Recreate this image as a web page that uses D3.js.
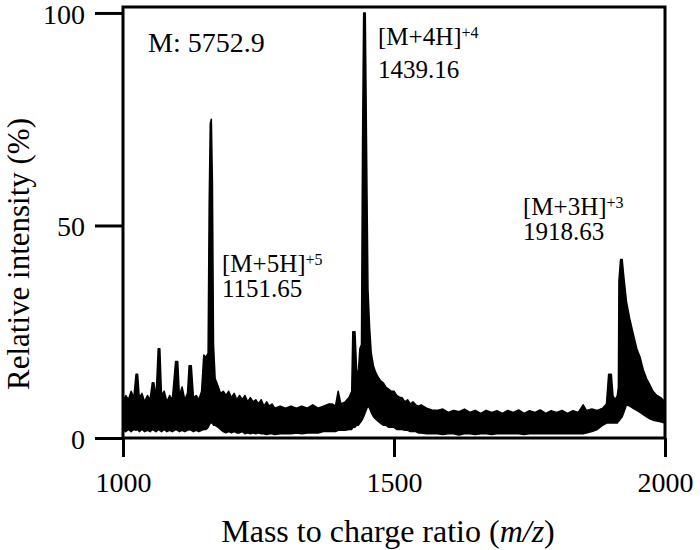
<!DOCTYPE html>
<html>
<head>
<meta charset="utf-8">
<script src="https://cdn.jsdelivr.net/npm/d3@7/dist/d3.min.js"></script>
<style>
    body { margin: 0; background: #fff; }
    text { font-family: "Liberation Serif", "Times New Roman", serif; fill: #000; }
</style>
</head>
<body>
<div id="chart"></div>
<script>
// spectrum envelope: m/z, top of noise band, bottom of noise band (%)
var mz = [1000,1005,1010,1015,1020,1024,1027,1030,1035,1040,1045,1050,1054,1057,1061,1065,1068,1071,1076,1081,
    1086,1091,1097,1101,1104,1109,1114,1119,1122,1126,1130,1135,1140,1145,1149,1153,1157,1159,1161,1163,
    1165,1167,1170,1176,1180,1185,1190,1195,1200,1205,1210,1215,1220,1225,1230,1235,1240,1245,1250,1255,
    1260,1265,1270,1275,1280,1290,1300,1310,1320,1330,1340,1350,1360,1370,1380,1386,1392,1397,1402,1410,
    1417,1422,1424,1428,1431,1434,1437,1440,1442,1444,1447,1450,1452,1455,1458,1462,1466,1470,1475,1480,
    1485,1490,1495,1500,1505,1510,1515,1520,1525,1530,1535,1540,1545,1550,1560,1570,1580,1590,1600,1610,
    1620,1630,1640,1650,1660,1670,1680,1690,1700,1710,1720,1730,1740,1750,1760,1770,1780,1790,1800,1810,
    1820,1830,1840,1849,1855,1865,1875,1885,1892,1896,1901,1904,1908,1912,1914,1915,1918,1921,1924,1929,
    1935,1941,1948,1954,1960,1966,1972,1978,1985,1992,2000];
var upper = [8.5,10,9,11,9.5,15,15,9.5,10.5,8.5,10,9,13,13,9.5,21,21,10,11,8.5,
    10,9,18,18,10,12,9,10.5,17,17,9.5,10,9,11,19.5,19,20,55,74,75,
    60,22,14,12,10.5,11,10,11,9.5,10.5,9,10,9,10,8.5,9.5,8.5,9,8,9,
    7.5,8.5,7.5,8,7,7.5,7,7.5,7,7.5,7,7.8,7,7.5,8,8,7.5,11,8,8.5,
    9.5,11,25,25,16,15,21,22,70,100,100,60,35,26,20,17,15.5,14.5,13.5,13,
    12,11.5,11,11,10,9.6,9.5,8.5,9,8,8.5,7.8,7.5,7.8,7,6.6,6.5,6.8,6,6.5,
    6.2,6.8,6,6.5,5.8,6.5,6,6.4,5.8,6.5,6,6.6,5.8,6.4,6,6.6,5.8,6.4,6,6.5,
    5.8,6.4,6,7.8,6.5,6.8,6.5,7,8,15,15,10,9,10,12,37,42,42,38,32,
    28,24.7,21,19,16,14,12.5,11,10,9.5,8.5];
var lower = [2,1.5,2,1.5,2,1.8,2,1.5,2,1.5,1.8,1.5,2,1.8,1.5,2,1.8,1.5,2,1.5,
    1.8,1.5,2,1.8,1.5,1.8,1.5,1.8,2,1.8,1.5,1.8,1.5,1.8,2,2,2.5,3,3.5,3.5,
    3.5,3,3,2.5,2,1.5,1.2,1.5,1.2,1.5,1.2,1.2,1.5,1,1.2,1,1.2,1,1.2,1,
    1,0.8,1,1,0.8,1,1,1,1.2,1,1.2,1.2,1.2,1.5,1.5,1.5,1.5,1.8,1.8,1.8,
    2,2,2.5,2.5,3,3,3.5,4,4.5,5,6,7,7.5,7,6,5,4.5,4,3.5,3,
    3,2.5,2.5,2.5,2,2,2,1.8,1.8,1.5,1.5,1.5,1.2,1.2,1,1,1,0.8,1,1,
    0.7,1,1,0.8,1,1,0.8,1,1,1,1,1,0.8,1,1,1,1,1,1,1,
    1,1,1,1,1.2,1.5,2,3,3.5,3.5,3.5,3.5,3.5,3.5,4,4,4.5,5,6,7.8,
    7.5,7,6.5,6,5.5,5,4.5,4.2,4,3.8,3.5];

var xTicks = [1000, 1500, 2000];
var yTicks = [0, 50, 100];

var peakLabels = ["[M+5H]", "[M+4H]", "[M+3H]"];
var peakCharges = ["+5", "+4", "+3"];
var peakMasses = ["1151.65", "1439.16", "1918.63"];
var massText = "M: 5752.9";

(function () {
    var width = 700,
        height = 550;

    var left = 123, right = 665, top = 7, bottom = 438;

    var svg = d3.select("#chart")
        .append("svg")
        .attr("width", width)
        .attr("height", height);

    var x = d3.scaleLinear().domain([1000, 2000]).range([left, right]);
    // frame top sits a little above the 100 tick
    var y = d3.scaleLinear().domain([0, 101.4]).range([bottom, top]);

    var data = mz.map(function (m, i) {
        return {mz: m, hi: upper[i], lo: lower[i]};
    });

    svg.append("defs").append("clipPath")
        .attr("id", "plotclip")
        .append("rect")
        .attr("x", left).attr("y", top)
        .attr("width", right - left).attr("height", bottom - top);

    var area = d3.area()
        .x(function (d) { return x(d.mz); })
        .y0(function (d) { return y(d.lo); })
        .y1(function (d) { return y(d.hi); });

    svg.append("path")
        .datum(data)
        .attr("clip-path", "url(#plotclip)")
        .attr("d", area)
        .attr("fill", "#000")
        .attr("stroke", "#000")
        .attr("stroke-width", 1.5)
        .attr("stroke-linejoin", "round");

    // frame
    svg.append("rect")
        .attr("x", left).attr("y", top)
        .attr("width", right - left).attr("height", bottom - top)
        .attr("fill", "none")
        .attr("stroke", "#000")
        .attr("stroke-width", 3);

    var xAxis = svg.append("g")
        .attr("transform", "translate(0," + bottom + ")")
        .call(d3.axisBottom(x).tickValues(xTicks).tickSize(19).tickPadding(15).tickFormat(d3.format("d")));

    var yAxis = svg.append("g")
        .attr("transform", "translate(" + left + ",0)")
        .call(d3.axisLeft(y).tickValues(yTicks).tickSize(28).tickPadding(10).tickFormat(d3.format("d")));

    [xAxis, yAxis].forEach(function (g) {
        g.attr("font-family", null).attr("font-size", null);
        g.select(".domain").remove();
        g.selectAll(".tick line").attr("stroke", "#000").attr("stroke-width", 3);
        g.selectAll(".tick text")
            .attr("font-size", 28)
            .attr("fill", "#000");
    });
    yAxis.selectAll(".tick text").attr("dy", "0.36em");

    // axis titles
    var xt = svg.append("text")
        .attr("x", 388)
        .attr("y", 542)
        .attr("text-anchor", "middle")
        .attr("font-size", 32);
    xt.append("tspan").text("Mass to charge ratio (");
    xt.append("tspan").attr("font-style", "italic").text("m/z");
    xt.append("tspan").text(")");

    svg.append("text")
        .attr("transform", "translate(29,254) rotate(-90)")
        .attr("text-anchor", "middle")
        .attr("font-size", 31)
        .text("Relative intensity (%)");

    // annotations
    svg.append("text")
        .attr("x", 148)
        .attr("y", 52)
        .attr("font-size", 28)
        .text(massText);

    var labelPos = [
        {x: 222, y: 272, gap: 25},
        {x: 378, y: 45, gap: 33},
        {x: 523, y: 215, gap: 25}
    ];

    labelPos.forEach(function (p, i) {
        var t = svg.append("text")
            .attr("x", p.x)
            .attr("y", p.y)
            .attr("font-size", 25);
        t.append("tspan").text(peakLabels[i]);
        t.append("tspan")
            .attr("font-size", 16)
            .attr("dy", -7)
            .text(peakCharges[i]);

        svg.append("text")
            .attr("x", p.x)
            .attr("y", p.y + p.gap)
            .attr("font-size", 25)
            .text(peakMasses[i]);
    });
})();
</script>
</body>
</html>
